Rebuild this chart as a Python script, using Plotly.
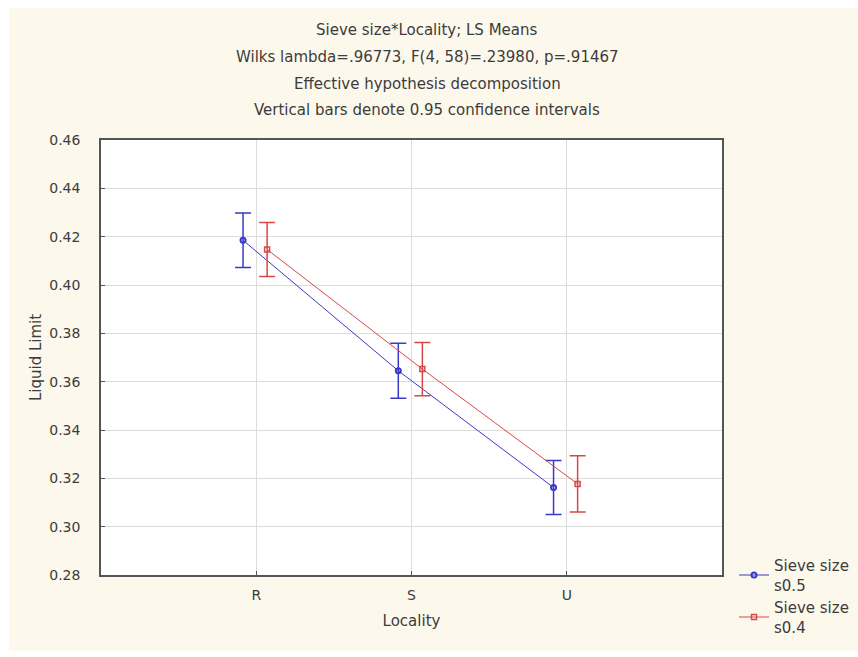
import plotly.graph_objects as go

# Locality LS means of liquid limit for two sieve sizes, with 0.95 CI half-widths
localities = ["R", "S", "U"]
tick_values = [0.28, 0.30, 0.32, 0.34, 0.36, 0.38, 0.40, 0.42, 0.44, 0.46]

s05_mean = [0.4185, 0.3645, 0.3162]
s05_ci = [0.0113, 0.0114, 0.0112]

s04_mean = [0.4147, 0.3652, 0.3177]
s04_ci = [0.0112, 0.0110, 0.0116]

title_lines = [
    "Sieve size*Locality; LS Means",
    "Wilks lambda=.96773, F(4, 58)=.23980, p=.91467",
    "Effective hypothesis decomposition",
    "Vertical bars denote 0.95 confidence intervals",
]

pos = list(range(len(localities)))
blue = "#3a3ac8"
red = "#d84848"
font_family = "DejaVu Sans, Verdana, sans-serif"
text_color = "#3c3c3c"

fig = go.Figure()
fig.add_trace(go.Scatter(
    x=[p - 0.085 for p in pos], y=s05_mean,
    mode="lines+markers",
    name="Sieve size<br>s0.5",
    line=dict(color=blue, width=1),
    marker=dict(symbol="circle-open", size=5, color=blue, line=dict(width=2)),
    error_y=dict(type="data", array=s05_ci, visible=True, color=blue,
                 thickness=1.5, width=8),
))
fig.add_trace(go.Scatter(
    x=[p + 0.07 for p in pos], y=s04_mean,
    mode="lines+markers",
    name="Sieve size<br>s0.4",
    line=dict(color=red, width=1),
    marker=dict(symbol="square-open", size=5, color=red, line=dict(width=1.5)),
    error_y=dict(type="data", array=s04_ci, visible=True, color=red,
                 thickness=1.5, width=8),
))

# cream page with the white plotting panel on top of it
shapes = [
    dict(type="rect", xref="paper", yref="paper", layer="below",
         x0=-0.148, x1=1.25, y0=-0.175, y1=1.303,
         fillcolor="#fdf8ec", line=dict(width=0)),
    dict(type="rect", xref="paper", yref="paper", layer="below",
         x0=0, x1=1, y0=0, y1=1,
         fillcolor="white", line=dict(width=0)),
]

title_y_px = [30, 57, 84, 110]
annotations = [
    dict(text=t, xref="paper", yref="paper", x=0.525, y=(575 - yp) / 435,
         showarrow=False, xanchor="center", yanchor="middle",
         font=dict(family=font_family, size=15, color=text_color))
    for t, yp in zip(title_lines, title_y_px)
]

fig.update_layout(
    width=858, height=657,
    margin=dict(l=101, r=136, t=140, b=82, autoexpand=False),
    paper_bgcolor="white",
    plot_bgcolor="white",
    shapes=shapes,
    annotations=annotations,
    font=dict(family=font_family, size=15, color=text_color),
    showlegend=True,
    legend=dict(xref="container", yref="container",
                x=734 / 858, y=1 - 549 / 657, xanchor="left", yanchor="top",
                bgcolor="rgba(0,0,0,0)", tracegroupgap=0,
                font=dict(size=15, color=text_color), itemwidth=30),
    xaxis=dict(
        range=[-1, 3], tickvals=pos, ticktext=localities,
        showgrid=True, gridcolor="#dcdcdc", gridwidth=1,
        zeroline=False, showline=True, linecolor="#555555", linewidth=1.5,
        mirror=True, ticks="inside", ticklen=4, tickcolor="#555555",
        ticklabelstandoff=6,
        title=dict(text="Locality", standoff=14, font=dict(size=15)),
        tickfont=dict(size=14, color=text_color),
    ),
    yaxis=dict(
        range=[0.28, 0.46], tickvals=tick_values,
        ticktext=[f"{v:.2f}" for v in tick_values],
        showgrid=True, gridcolor="#dcdcdc", gridwidth=1,
        zeroline=False, showline=True, linecolor="#555555", linewidth=1.5,
        mirror=True, ticks="inside", ticklen=4, tickcolor="#555555",
        ticklabelstandoff=16,
        title=dict(text="Liquid Limit", standoff=4, font=dict(size=15)),
        tickfont=dict(size=14, color=text_color),
    ),
)

fig.write_html("out.html")
